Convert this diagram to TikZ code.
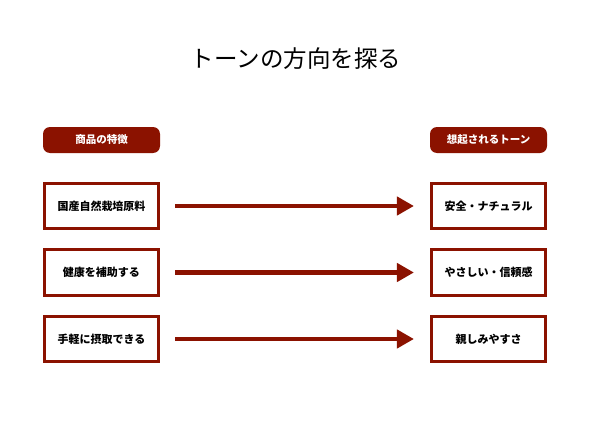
\documentclass[tikz,border=0pt]{standalone}
\usepackage{fontspec}
\setmainfont{Noto Sans CJK JP}
\usetikzlibrary{arrows.meta}
\definecolor{tonered}{RGB}{139,18,0}

\begin{document}
\begin{tikzpicture}[x=1pt,y=-1pt,
  pill/.style={fill=tonered,rounded corners=7pt,minimum width=117pt,minimum height=26pt,inner sep=0pt,text=white,font=\fontsize{10.5}{12}\selectfont\bfseries},
  item/.style={draw=tonered,line width=2.6pt,fill=white,minimum width=114.5pt,minimum height=45.5pt,inner sep=0pt,font=\fontsize{11}{13}\selectfont\bfseries},
  tonearrow/.style={draw=tonered,line width=4.6pt,-{Triangle[length=17pt,width=18pt]},shorten <=15pt,shorten >=16pt}]
\useasboundingbox (0,0) rectangle (590,442);
\node (title) at (296,58.5) {\fontsize{23.5}{27}\selectfont トーンの方向を探る};
\node[pill] (feature) at (101.5,140) {商品の特徴};
\node[pill] (tone) at (488.5,140) {想起されるトーン};
\node[item] (f1) at (101.5,206) {国産自然栽培原料};
\node[item] (f2) at (101.5,272.5) {健康を補助する};
\node[item] (f3) at (101.5,339) {手軽に摂取できる};
\node[item] (t1) at (488.5,206) {安全・ナチュラル};
\node[item] (t2) at (488.5,272.5) {やさしい・信頼感};
\node[item] (t3) at (488.5,339) {親しみやすさ};
\draw[tonearrow] (f1) -- (t1);
\draw[tonearrow] (f2) -- (t2);
\draw[tonearrow] (f3) -- (t3);
\end{tikzpicture}
\end{document}
